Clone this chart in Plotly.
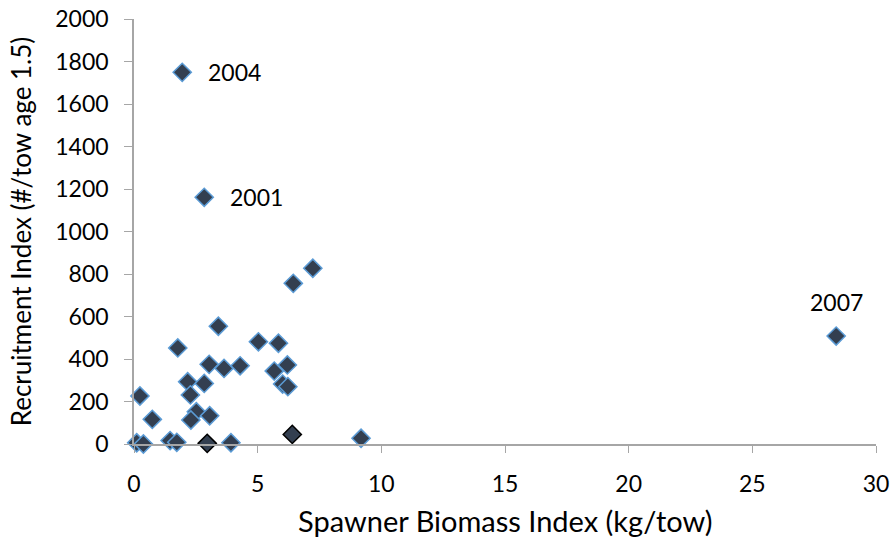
import plotly.graph_objects as go

# spawner biomass (kg/tow) vs recruitment (#/tow age 1.5)
spawner = [0.24, 0.74, 1.77, 2.17, 2.28, 2.52, 2.30, 2.84, 3.04, 3.06, 3.41, 3.64,
           4.29, 5.03, 5.84, 5.67, 6.20, 6.01, 6.22, 6.44, 7.23, 9.18, 3.92, 0.11,
           0.38, 1.46, 1.73, 1.95, 2.84, 28.39]
recruits = [226, 116, 452, 293, 231, 152, 113, 285, 375, 133, 554, 356,
            368, 481, 474, 343, 372, 282, 270, 756, 827, 27, 6, 6,
            0, 16, 8, 1749, 1161, 508]

# the two points drawn with a black outline
spawner_b = [2.96, 6.40]
recruits_b = [3, 45]

label_years = ["2004", "2001", "2007"]
label_x = [1.95, 2.84, 28.39]
label_y = [1749, 1161, 508]

FONT = "Lato, Open Sans, sans-serif"
AXIS = "#A6A6A6"
FILL = "#333F50"

fig = go.Figure()
fig.add_trace(go.Scatter(
    x=spawner, y=recruits, mode="markers", cliponaxis=False,
    marker=dict(symbol="diamond", size=14, color=FILL,
                line=dict(color="#5B9BD5", width=1.5)),
    showlegend=False))
fig.add_trace(go.Scatter(
    x=spawner_b, y=recruits_b, mode="markers", cliponaxis=False,
    marker=dict(symbol="diamond", size=14, color=FILL,
                line=dict(color="#000000", width=1.5)),
    showlegend=False))

shifts = [(52, 0), (52, 0), (0, 34)]
for yr, lx, ly, (dx, dy) in zip(label_years, label_x, label_y, shifts):
    fig.add_annotation(x=lx, y=ly, text=yr, showarrow=False,
                       xshift=dx, yshift=dy,
                       font=dict(family=FONT, size=23, color="#000000"))

# x-axis title placed as a paper annotation
fig.add_annotation(x=0.5, y=0, xref="paper", yref="paper", yanchor="middle",
                   yshift=-76, showarrow=False,
                   text="Spawner Biomass Index (kg/tow)",
                   font=dict(family=FONT, size=29, color="#000000"))

fig.update_layout(
    width=893, height=542,
    margin=dict(l=134, r=17, t=19, b=98),
    paper_bgcolor="white", plot_bgcolor="white",
    font=dict(family=FONT, size=23, color="#000000"),
    xaxis=dict(range=[0, 30], tickvals=[0, 5, 10, 15, 20, 25, 30],
               showgrid=False, zeroline=False, showline=True, linecolor=AXIS,
               linewidth=1.5, ticks="outside", tickcolor=AXIS, ticklen=7,
               ticklabelstandoff=12, ticklabeloverflow="allow", automargin=False),
    yaxis=dict(range=[0, 2000], tickvals=list(range(0, 2001, 200)),
               showgrid=False, zeroline=False, showline=True, linecolor=AXIS,
               linewidth=1.5, ticks="outside", tickcolor=AXIS, ticklen=8,
               ticklabelstandoff=11, ticklabeloverflow="allow", automargin=False,
               title=dict(text="Recruitment Index (#/tow age 1.5)",
                          font=dict(size=26), standoff=16)),
)

# drop the default 8px page margin so the figure fills the window exactly
fig.write_html("out.html", config={"displayModeBar": False},
               post_script="document.body.style.margin='0';")
